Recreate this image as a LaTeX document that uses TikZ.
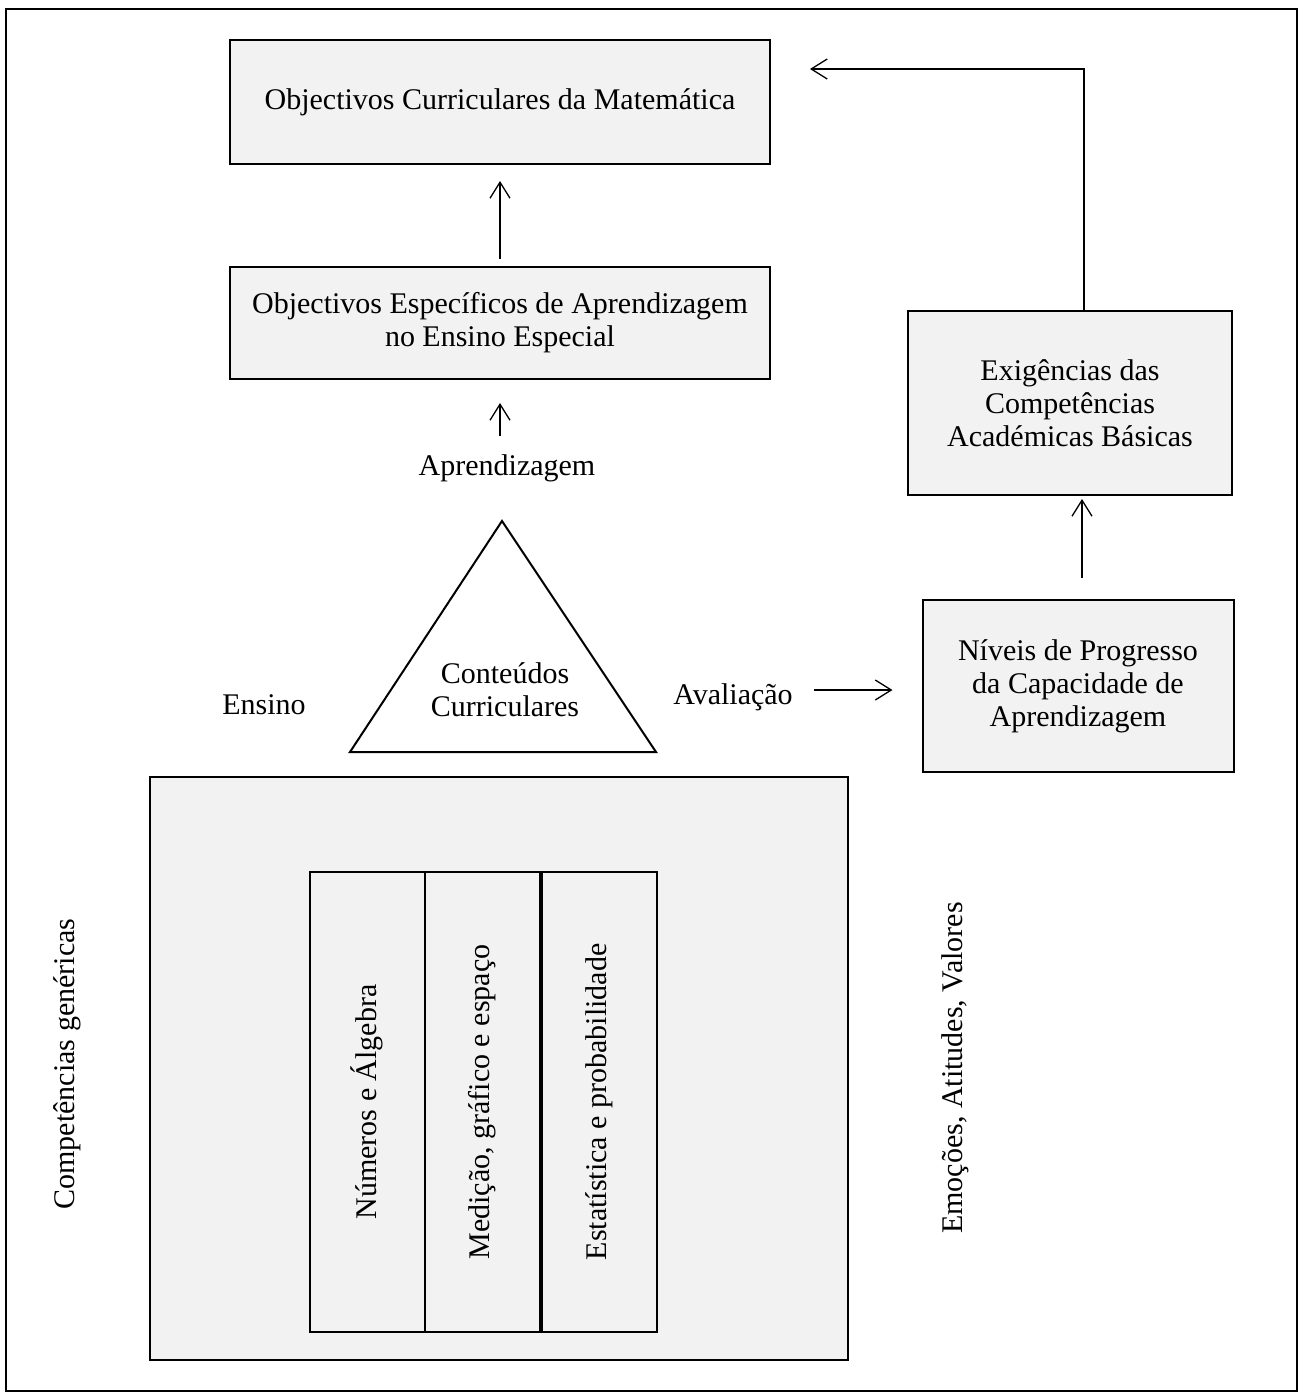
\documentclass[tikz,border=0pt]{standalone}
\usepackage{fontspec}
\setmainfont{Liberation Serif}
\usetikzlibrary{arrows.meta,positioning,calc}

\tikzset{
  txt/.style={font=\fontsize{30}{33}\selectfont, align=center, inner sep=0pt},
  box/.style={txt, draw, line width=2pt, fill=black!5},
  arr/.style={-{Straight Barb[length=16pt,width=20pt]}, line width=1.3pt},
}

\begin{document}
\begin{tikzpicture}[x=1pt, y=-1pt, line join=miter]
\useasboundingbox (0,0) rectangle (1302,1398);
\draw[line width=2pt] (6,9) rectangle (1297,1391);

% objectivos
\node[box, minimum width=540pt, minimum height=124pt] (obcur) at (500,102) {Objectivos Curriculares da Matemática};
\node[box, minimum width=540pt, minimum height=112pt] (obesp) at (500,323) {Objectivos Específicos de Aprendizagem\\no Ensino Especial};
\node[txt] (aprend) at (507,468) {Aprendizagem};

% triangulo
\coordinate (tritop) at (502,521);
\coordinate (trileft) at (350,752);
\coordinate (triright) at (656,752);
\draw[line width=2pt] (tritop) -- (trileft) -- (triright) -- cycle;
\node[txt] (conteudos) at (505,690) {Conteúdos\\Curriculares};
\node[txt] (ensino) at (264,705) {Ensino};
\node[txt] (aval) at (733,697) {Avaliação};

% lado direito
\node[box, minimum width=324pt, minimum height=184pt] (exig) at (1070,403) {Exigências das\\Competências\\Académicas Básicas};
\node[box, minimum width=311pt, minimum height=172pt] (niveis) at (1078,686) {Níveis de Progresso\\da Capacidade de\\Aprendizagem};

% competencias
\node[box, minimum width=698pt, minimum height=583pt] (genbox) at (499,1068.5) {};
\foreach \i/\xc/\t in {1/367/{Números e Álgebra}, 2/482/{Medição, gráfico e espaço}, 3/599/{Estatística e probabilidade}}
  \node[box, rotate=90, minimum width=460pt, minimum height=115pt] (col\i) at (\xc,1102) {\t};
\node[txt, rotate=90] (generic) at (67,1064) {Competências genéricas};
\node[txt, rotate=90] (emocoes) at (955,1068) {Emoções, Atitudes, Valores};

% setas
\coordinate (armx) at (1082,0);
\coordinate (fbk) at (1084,69);
\draw[arr, shorten <=7pt, shorten >=16pt] (obesp) -- (obcur);
\draw[arr, shorten <=18pt, shorten >=23pt] (aprend.north -| obesp.south) -- (obesp.south);
\draw[arr, shorten <=21pt, shorten >=29pt] ([yshift=7pt]aval.east) -- ([yshift=7pt]aval.east -| niveis.west);
\draw[arr, shorten <=21pt, shorten >=3pt] (niveis.north -| armx) -- (exig.south -| armx);
\draw[arr, shorten >=39pt] (exig.north -| fbk) |- (obcur.east |- fbk);
\end{tikzpicture}
\end{document}
